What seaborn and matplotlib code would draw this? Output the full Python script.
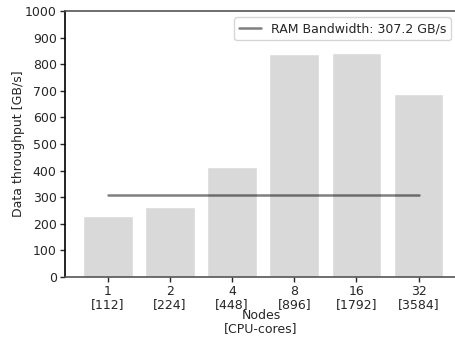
import matplotlib
matplotlib.use("Agg")
import matplotlib.pyplot as plt
import seaborn as sns
import pandas as pd

nodes = ["1", "2", "4", "8", "16", "32"]
cores = ["112", "224", "448", "896", "1792", "3584"]
throughput = [230, 264, 414, 840, 843, 688]
ram_bandwidth = 307.2

labels = [f"{n}\n[{c}]" for n, c in zip(nodes, cores)]
df = pd.DataFrame({"label": labels, "throughput": throughput})

sns.set_style("white")
plt.rcParams['font.family'] = ['DejaVu Sans']

FS = 9
fig = plt.figure(figsize=(4.56, 3.41), dpi=100)
ax = fig.add_axes([0.1425, 0.1877, 0.86, 0.78])

sns.barplot(data=df, x="label", y="throughput", color="#d9d9d9", saturation=1,
            width=0.8, ax=ax)
ax.plot([0, len(labels) - 1], [ram_bandwidth, ram_bandwidth], color="black",
        alpha=0.5, lw=1.8, label=f"RAM Bandwidth: {ram_bandwidth} GB/s")

ax.set_ylim(0, 1000)
ax.set_xlim(-0.69, 5.62)
ax.set_yticks(range(0, 1001, 100))
ax.set_xlabel("Nodes\n[CPU-cores]", fontsize=FS, linespacing=0.95, labelpad=-1)
ax.set_ylabel("Data throughput [GB/s]", fontsize=FS, labelpad=0)
ax.tick_params(axis="both", labelsize=FS, length=3.5, width=1, bottom=True, left=True,
               direction="out", pad=2.5)
for t in ax.get_xticklabels():
    t.set_linespacing(0.95)
ax.spines["right"].set_visible(False)
ax.spines["left"].set_color("black")
ax.spines["bottom"].set_color("#555555")
ax.spines["top"].set_color("#555555")
for s in ax.spines.values():
    s.set_linewidth(1.2)
ax.legend(loc="upper right", fontsize=FS, frameon=True, handlelength=1.7)

fig.savefig("out.png", dpi=100)
